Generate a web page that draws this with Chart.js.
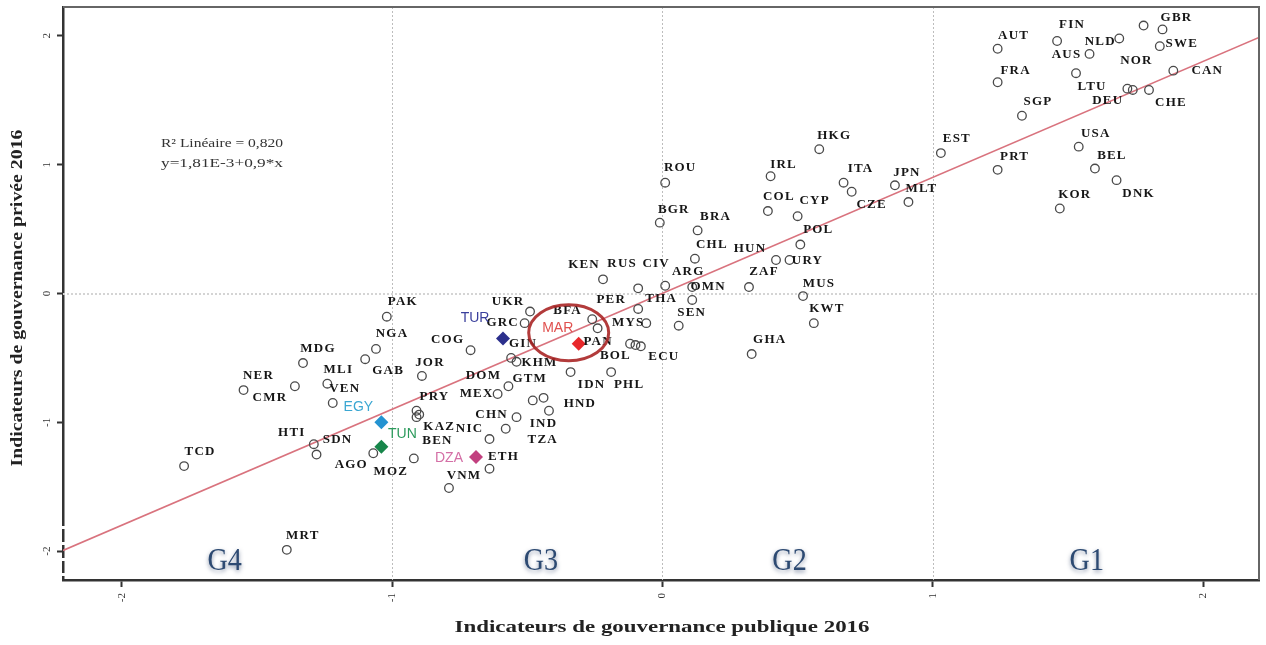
<!DOCTYPE html>
<html>
<head>
<meta charset="utf-8">
<script src="https://cdn.jsdelivr.net/npm/chart.js@4.4.1/dist/chart.umd.min.js"></script>
<style>
  html, body { margin: 0; padding: 0; background: #fff; overflow: hidden; }
  canvas { display: block; }
</style>
</head>
<body>
<canvas id="chart" width="1266" height="645"></canvas>
<script>
// Governance indicators 2016: public (x) vs private (y), one point per country
const countries = [
  'TCD','MRT','NER','CMR','MDG','MLI','VEN','HTI','SDN','AGO','MOZ','PAK','NGA','GAB','JOR',
  'PRY','KAZ','BEN','COG','UKR','GRC','GIN','KHM','DOM','MEX','GTM','IND','HND','CHN','TZA',
  'NIC','ETH','VNM','IDN','PHL','PER','BFA','MYS','PAN','BOL','ECU','THA','KEN','RUS','CIV',
  'ARG','OMN','SEN','CHL','ROU','BGR','BRA','HKG','IRL','ITA','CZE','COL','CYP','POL','HUN',
  'URY','ZAF','MUS','KWT','GHA','JPN','MLT','EST','PRT','SGP','AUT','FRA','FIN','NLD','',
  'GBR','SWE','AUS','LTU','NOR','DEU','CHE','CAN','USA','BEL','DNK','KOR'
];
const publicGov = [
  -1.77,-1.39,-1.55,-1.36,-1.33,-1.24,-1.22,-1.29,-1.28,-1.07,-0.92,-1.02,-1.06,-1.10,-0.89,
  -0.91,-0.90,-0.91,-0.71,-0.49,-0.51,-0.56,-0.54,-0.57,-0.61,-0.48,-0.44,-0.42,-0.54,-0.58,
  -0.64,-0.64,-0.79,-0.34,-0.19,-0.26,-0.24,-0.06,-0.12,-0.10,-0.08,-0.09,-0.22,-0.09, 0.01,
   0.11, 0.11, 0.06, 0.12, 0.01,-0.01, 0.13, 0.58, 0.40, 0.67, 0.70, 0.39, 0.50, 0.51, 0.42,
   0.47, 0.32, 0.52, 0.56, 0.33, 0.86, 0.91, 1.03, 1.24, 1.33, 1.24, 1.24, 1.46, 1.69, 1.78,
   1.85, 1.84, 1.58, 1.53, 1.72, 1.74, 1.80, 1.89, 1.54, 1.60, 1.68, 1.47
];
const privateGov = [
  -1.34,-1.99,-0.75,-0.72,-0.54,-0.70,-0.85,-1.17,-1.25,-1.24,-1.28,-0.18,-0.43,-0.51,-0.64,
  -0.91,-0.94,-0.96,-0.44,-0.14,-0.23,-0.50,-0.53,-0.72,-0.78,-0.83,-0.81,-0.91,-0.96,-1.05,
  -1.13,-1.36,-1.51,-0.61,-0.61,-0.20,-0.27,-0.23,-0.39,-0.40,-0.41,-0.12, 0.11, 0.04, 0.06,
   0.05,-0.05,-0.25, 0.27, 0.86, 0.55, 0.49, 1.12, 0.91, 0.86, 0.79, 0.64, 0.60, 0.38, 0.26,
   0.26, 0.05,-0.02,-0.23,-0.47, 0.84, 0.71, 1.09, 0.96, 1.38, 1.90, 1.64, 1.96, 1.98, 2.08,
   2.05, 1.92, 1.86, 1.71, 1.59, 1.58, 1.58, 1.73, 1.14, 0.97, 0.88, 0.66
];
// Where each country code sits relative to its marker, in pixels
const labelOffsets = [
  [16,-14],[16,-14],[15,-14],[-25,11],[15,-14],[11,-14],[12,-14],[-22,-12],[21,-15],[-22,11],[-23,13],[16,-15],[16,-15],[23,11],[8,-13],
  [18,-14],[20,12],[21,23],[-23,-11],[-22,-10],[-22,0],[12,-14],[23,1],[-25,-11],[-21,0],[-3,-22],[0,26],[31,-7],[-25,-3],[37,11],
  [-20,-10],[14,-12],[15,-12],[21,13],[18,13],[19,-20],[-30,-18],[-18,0],[-32,-2],[-20,11],[23,10],[23,-10],[-19,-15],[-16,-25],[-9,-22],
  [-4,-15],[16,-13],[13,-13],[17,-14],[15,-15],[14,-13],[18,-14],[15,-14],[13,-12],[17,-14],[20,13],[11,-14],[17,-16],[18,-15],[-26,-11],
  [18,1],[15,-15],[16,-12],[13,-14],[18,-14],[12,-13],[13,-13],[16,-14],[17,-13],[16,-14],[16,-13],[18,-12],[15,-16],[-19,3],[0,0],
  [14,-12],[22,-3],[-23,1],[16,13],[9,-28],[-25,11],[22,13],[34,0],[17,-13],[17,-13],[22,14],[15,-14]
];

// Comparison countries shown as coloured diamonds
const focusCountries = ['TUR','MAR','DZA','EGY','TUN'];
const focusPublic  = [-0.59,-0.31,-0.69,-1.04,-1.04];
const focusPrivate = [-0.35,-0.39,-1.27,-1.00,-1.19];
const focusColors      = ['#2b2f8c','#e8282b','#c2407f','#2493d1','#17864a'];
const focusLabelColors = ['#3a3f9c','#e0514f','#d46fa6','#3ba7d2','#2c9a5c'];
const focusLabelOffsets = [[-28,-20],[-21,-16],[-27,1],[-23,-15],[21,-13]];

// Linear fit: y = 1,81E-3 + 0,9*x (R² = 0,820)
const fitIntercept = 0.00181;
const fitSlope = 0.9;
const fitText = ['R\u00B2 Lin\u00E9aire = 0,820', 'y=1,81E-3+0,9*x'];

const xTicks = [-2, -1, 0, 1, 2];
const yTicks = [-2, -1, 0, 1, 2];
const xGuides = [-1, 0, 1];
const yGuides = [0];
const groupNames = ['G4', 'G3', 'G2', 'G1'];
const groupCentres = [-1.62, -0.45, 0.47, 1.57];

const X_MIN = -2.218, X_MAX = 2.207, Y_MIN = -2.224, Y_MAX = 2.224;
const SERIF = "'Liberation Serif', 'DejaVu Serif', serif";

const countryData = countries.map((c, i) => ({ x: publicGov[i], y: privateGov[i] }));
const focusData = focusCountries.map((c, i) => ({ x: focusPublic[i], y: focusPrivate[i] }));
const fitData = [X_MIN, X_MAX].map(x => ({ x, y: fitIntercept + fitSlope * x }));

// draw text centred/left at (x, y), stretched horizontally to a given width
function fillStretched(ctx, text, x, y, width, align) {
  const w = ctx.measureText(text).width;
  const k = width / w;
  ctx.save();
  ctx.translate(x, y);
  ctx.scale(k, 1);
  ctx.textAlign = align;
  ctx.fillText(text, 0, 0);
  ctx.restore();
}

const overlay = {
  id: 'overlay',
  beforeDatasetsDraw(chart) {
    const { ctx, chartArea: a, scales: { x, y } } = chart;
    ctx.save();
    ctx.strokeStyle = '#bdbdbd';
    ctx.lineWidth = 1;
    ctx.setLineDash([2, 2]);
    xGuides.forEach(v => {
      const px = Math.round(x.getPixelForValue(v)) + 0.5;
      ctx.beginPath(); ctx.moveTo(px, a.top); ctx.lineTo(px, a.bottom); ctx.stroke();
    });
    ctx.strokeStyle = '#d4d4d4';
    ctx.lineWidth = 2;
    yGuides.forEach(v => {
      const py = Math.round(y.getPixelForValue(v));
      ctx.beginPath(); ctx.moveTo(a.left, py); ctx.lineTo(a.right, py); ctx.stroke();
    });
    ctx.restore();
  },
  afterDatasetsDraw(chart) {
    const { ctx, chartArea: a, scales: { x, y } } = chart;
    ctx.save();

    // frame on top and right
    ctx.strokeStyle = '#666';
    ctx.lineWidth = 2;
    ctx.beginPath();
    ctx.moveTo(a.left, a.top); ctx.lineTo(a.right, a.top); ctx.lineTo(a.right, a.bottom);
    ctx.stroke();

    // country codes
    const pts = chart.getDatasetMeta(1).data;
    ctx.font = 'bold 13px ' + SERIF;
    ctx.letterSpacing = '1.2px';
    ctx.fillStyle = '#161616';
    ctx.textAlign = 'center';
    ctx.textBaseline = 'middle';
    pts.forEach((p, i) => {
      if (!countries[i]) return;
      const [dx, dy] = labelOffsets[i];
      ctx.fillText(countries[i], p.x + dx, p.y + dy);
    });

    // highlighted countries
    const fpts = chart.getDatasetMeta(2).data;
    ctx.font = "14px 'Liberation Sans', Arial, sans-serif";
    ctx.letterSpacing = '0px';
    fpts.forEach((p, i) => {
      const [dx, dy] = focusLabelOffsets[i];
      ctx.fillStyle = focusLabelColors[i];
      ctx.fillText(focusCountries[i], p.x + dx, p.y + dy);
    });

    // ring around Morocco
    const mar = fpts[focusCountries.indexOf('MAR')];
    ctx.strokeStyle = 'rgba(170,38,38,0.9)';
    ctx.lineWidth = 3;
    ctx.beginPath();
    ctx.ellipse(mar.x - 10, mar.y - 11, 40, 28, 0, 0, Math.PI * 2);
    ctx.stroke();

    // group names along the bottom
    ctx.save();
    ctx.font = '32px ' + SERIF;
    ctx.fillStyle = '#2d4a72';
    ctx.shadowColor = 'rgba(40,60,100,0.55)';
    ctx.shadowBlur = 4;
    ctx.shadowOffsetY = 2;
    ctx.textBaseline = 'middle';
    groupNames.forEach((g, i) => {
      const gx = x.getPixelForValue(groupCentres[i]);
      ctx.save();
      ctx.translate(gx, a.bottom - 18);
      ctx.scale(0.88, 1);
      ctx.fillText(g, 0, 0);
      ctx.restore();
    });
    ctx.restore();

    // fit annotation
    ctx.fillStyle = '#333';
    ctx.font = '12px ' + SERIF;
    fillStretched(ctx, fitText[0], 161, 144, 122, 'left');
    ctx.font = '13px ' + SERIF;
    fillStretched(ctx, fitText[1], 161, 164, 122, 'left');

    // y tick labels, rotated
    ctx.font = '11px ' + SERIF;
    ctx.fillStyle = '#333';
    ctx.textAlign = 'center';
    yTicks.forEach(v => {
      ctx.save();
      ctx.translate(47, y.getPixelForValue(v));
      ctx.rotate(-Math.PI / 2);
      ctx.fillText(String(v), 0, 0);
      ctx.restore();
    });

    // break marks on the lower part of the y axis
    ctx.fillStyle = '#fff';
    [526, 542, 558, 573].forEach(py => ctx.fillRect(a.left - 3, py, 6, 3));

    // axis titles
    ctx.fillStyle = '#222';
    ctx.font = 'bold 17px ' + SERIF;
    fillStretched(ctx, 'Indicateurs de gouvernance publique 2016', 662, 628, 415, 'center');
    ctx.save();
    ctx.translate(18, 298);
    ctx.rotate(-Math.PI / 2);
    fillStretched(ctx, 'Indicateurs de gouvernance priv\u00E9e 2016', 0, 0, 337, 'center');
    ctx.restore();

    ctx.restore();
  }
};

new Chart(document.getElementById('chart'), {
  type: 'scatter',
  data: {
    datasets: [
      {
        type: 'line',
        data: fitData,
        borderColor: '#d9737e',
        borderWidth: 1.6,
        pointRadius: 0,
        fill: false,
        order: 3
      },
      {
        data: countryData,
        pointStyle: 'circle',
        pointRadius: 4.3,
        pointBorderWidth: 1.3,
        borderColor: '#4a4a4a',
        backgroundColor: 'rgba(255,255,255,0)',
        order: 2
      },
      {
        data: focusData,
        pointStyle: 'rectRot',
        pointRadius: 7,
        pointBorderWidth: 0,
        backgroundColor: focusColors,
        borderColor: focusColors,
        order: 1
      }
    ]
  },
  options: {
    responsive: false,
    animation: false,
    devicePixelRatio: 1,
    layout: { padding: { top: 4, right: 6, left: 0, bottom: 0 } },
    plugins: { legend: { display: false }, tooltip: { enabled: false } },
    scales: {
      x: {
        type: 'linear',
        min: X_MIN,
        max: X_MAX,
        afterBuildTicks: s => { s.ticks = xTicks.map(v => ({ value: v })); },
        afterFit: s => { s.height = 65; },
        ticks: {
          minRotation: 90,
          maxRotation: 90,
          padding: 6,
          color: '#333',
          font: { family: SERIF, size: 11 }
        },
        grid: { drawOnChartArea: false, tickLength: 7, tickColor: '#333', tickWidth: 2 },
        border: { display: true, color: '#333', width: 2.5 }
      },
      y: {
        type: 'linear',
        min: Y_MIN,
        max: Y_MAX,
        afterBuildTicks: s => { s.ticks = yTicks.map(v => ({ value: v })); },
        afterFit: s => { s.width = 63; },
        ticks: { display: false },
        grid: { drawOnChartArea: false, tickLength: 6, tickColor: '#333', tickWidth: 2 },
        border: { display: true, color: '#333', width: 2.5 }
      }
    }
  },
  plugins: [overlay]
});
</script>
</body>
</html>
